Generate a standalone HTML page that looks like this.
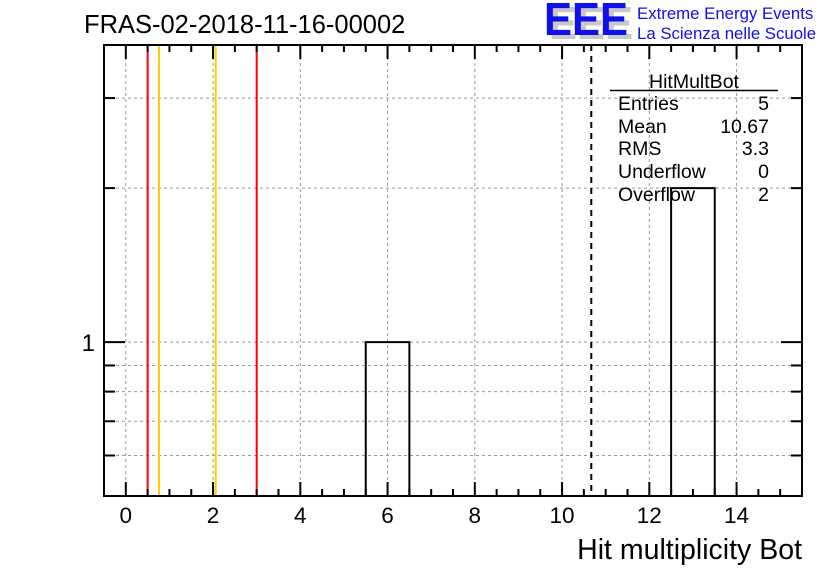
<!DOCTYPE html>
<html><head><meta charset="utf-8"><style>
body{margin:0;background:#fff;width:836px;height:572px;overflow:hidden}
svg{display:block;font-family:"Liberation Sans",sans-serif}
</style></head><body>
<svg id="c" width="836" height="572">
<text x="84" y="33" font-size="25.5">FRAS-02-2018-11-16-00002</text>
<g>
<text x="549" y="39" font-size="46" font-weight="bold" fill="#c8c8c8" textLength="84" lengthAdjust="spacingAndGlyphs">EEE</text>
<text x="544" y="35" font-size="46" font-weight="bold" fill="#1010ee" textLength="84" lengthAdjust="spacingAndGlyphs">EEE</text>
<text x="637" y="19" font-size="16.8" fill="#1010ee">Extreme Energy Events</text>
<text x="637" y="39" font-size="16.8" fill="#1010ee">La Scienza nelle Scuole</text>
</g>
<g id="grid"></g><g id="marks"></g><g id="axes"></g>
<g font-size="19.5">
<text x="694" y="88" text-anchor="middle">HitMultBot</text>
<line x1="610" y1="90.5" x2="778" y2="90.5" stroke="#000" stroke-width="1.5"/>
<text x="618" y="110">Entries</text><text x="769" y="110" text-anchor="end">5</text>
<text x="618" y="133">Mean</text><text x="769" y="133" text-anchor="end">10.67</text>
<text x="618" y="155">RMS</text><text x="769" y="155" text-anchor="end">3.3</text>
<text x="618" y="178">Underflow</text><text x="769" y="178" text-anchor="end">0</text>
<text x="618" y="201">Overflow</text><text x="769" y="201" text-anchor="end">2</text>
</g>
<text x="802" y="559" font-size="28.5" text-anchor="end">Hit multiplicity Bot</text>
</svg>
<script>
const binLow=[5.5,12.5];
const binCounts=[1,2];
const binWidth=1;
const redLines=[0.5,3.0];
const orangeLines=[0.76,2.06];
const meanLine=[10.67];
const xTicks=[0,2,4,6,8,10,12,14];
const yMinorTicks=[0.6,0.7,0.8,0.9,2,3];
const yLabels=[1];
const X0=104,X1=802,Y0=45,Y1=496,xmin=-0.5,xmax=15.5,ymin=0.5,ymax=3.81;
const sx=v=>X0+(v-xmin)/(xmax-xmin)*(X1-X0);
const sy=v=>Y1-(Math.log10(v)-Math.log10(ymin))/(Math.log10(ymax)-Math.log10(ymin))*(Y1-Y0);
const NS="http://www.w3.org/2000/svg";
function mk(p,t,a){const e=document.createElementNS(NS,t);for(const k in a)e.setAttribute(k,a[k]);p.appendChild(e);return e;}
const grid=document.getElementById('grid'),marks=document.getElementById('marks'),axes=document.getElementById('axes');
xTicks.forEach(v=>{const e=mk(grid,'line',{x1:sx(v),x2:sx(v),y1:Y0,y2:Y1,stroke:'#999','stroke-dasharray':'3,3'});

});
yMinorTicks.concat(yLabels).forEach(v=>{const e=mk(grid,'line',{x1:X0,x2:X1,y1:sy(v),y2:sy(v),stroke:'#999','stroke-dasharray':'3,3'});

});
binLow.forEach((lo,i)=>{const x=sx(lo),w=sx(lo+binWidth)-x,y=sy(binCounts[i]);
const e=mk(marks,'path',{d:`M${x},${Y1}V${y}H${x+w}V${Y1}`,fill:'none',stroke:'#000','stroke-width':2});

});
redLines.forEach(v=>{const e=mk(marks,'line',{x1:sx(v),x2:sx(v),y1:Y0,y2:Y1,stroke:'#f00','stroke-width':2});

});
orangeLines.forEach(v=>{const e=mk(marks,'line',{x1:sx(v),x2:sx(v),y1:Y0,y2:Y1,stroke:'#fc0','stroke-width':2});

});
meanLine.forEach(v=>{const e=mk(marks,'line',{x1:sx(v),x2:sx(v),y1:Y0,y2:Y1,stroke:'#000','stroke-width':2,'stroke-dasharray':'6,5'});

});
const fr=mk(axes,'rect',{x:X0,y:Y0,width:X1-X0,height:Y1-Y0,fill:'none',stroke:'#000','stroke-width':2});


for(let v=0;v<=15;v+=0.5){const maj=xTicks.includes(v),L=maj?14:7;
mk(axes,'line',{x1:sx(v),x2:sx(v),y1:Y1,y2:Y1-L,stroke:'#000','stroke-width':2});
mk(axes,'line',{x1:sx(v),x2:sx(v),y1:Y0,y2:Y0+L,stroke:'#000','stroke-width':2});}
xTicks.forEach(v=>{const t=mk(axes,'text',{x:sx(v),y:523,'font-size':22.5,'text-anchor':'middle'});t.textContent=v;

});
yMinorTicks.forEach(v=>{mk(axes,'line',{x1:X0,x2:X0+11,y1:sy(v),y2:sy(v),stroke:'#000','stroke-width':2});
mk(axes,'line',{x1:X1,x2:X1-11,y1:sy(v),y2:sy(v),stroke:'#000','stroke-width':2});});
yLabels.forEach(v=>{mk(axes,'line',{x1:X0,x2:X0+21,y1:sy(v),y2:sy(v),stroke:'#000','stroke-width':2});
mk(axes,'line',{x1:X1,x2:X1-21,y1:sy(v),y2:sy(v),stroke:'#000','stroke-width':2});
const t=mk(axes,'text',{x:95,y:sy(v)+9,'font-size':24,'text-anchor':'end'});t.textContent=v;

});
</script>
</body></html>
